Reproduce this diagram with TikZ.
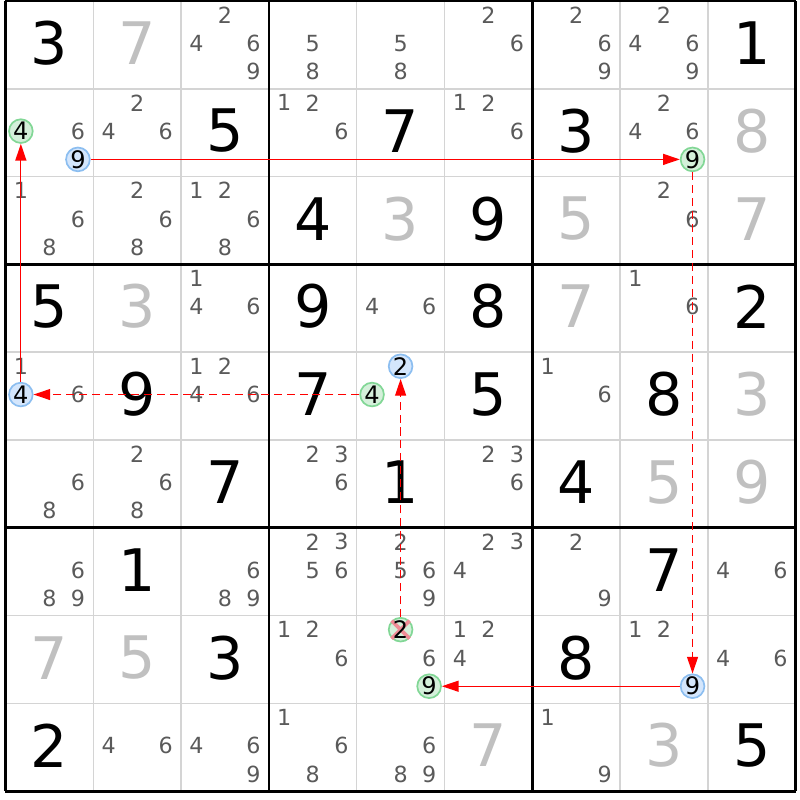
\documentclass[tikz,border=0pt]{standalone}
\usepackage{fontspec}
\setmainfont{DejaVu Sans}
\usetikzlibrary{arrows.meta}

\definecolor{solvedgray}{RGB}{192,192,192}
\definecolor{candgray}{RGB}{90,90,90}
\definecolor{thingray}{RGB}{212,212,212}
\definecolor{blueline}{RGB}{140,190,240}
\definecolor{bluefill}{RGB}{212,230,252}
\definecolor{greenline}{RGB}{130,215,150}
\definecolor{greenfill}{RGB}{212,240,218}
\definecolor{crosspink}{RGB}{240,140,150}

\begin{document}
\begin{tikzpicture}[x=1cm, y=-1cm,
    given/.style={font=\fontsize{19}{19}\selectfont, text=black, inner sep=0pt},
    solved/.style={given, text=solvedgray},
    cand/.style={font=\fontsize{7.2}{7.2}\selectfont, text=candgray, inner sep=0pt},
    hlblue/.style={circle, draw=blueline, fill=bluefill, line width=0.55pt, minimum size=0.27cm, inner sep=0pt, font=\fontsize{7.8}{7.8}\selectfont, text=black},
    hlgreen/.style={hlblue, draw=greenline, fill=greenfill},
    strong/.style={red, line width=0.4pt, -{Triangle[length=1.9mm, width=1.25mm]}},
    weak/.style={strong, dash pattern=on 2.6pt off 1.6pt},
    cross/.style={crosspink, line width=1.2pt}]

    \useasboundingbox (-0.0626,-0.0114) rectangle (9.049,9.100);

    % grid
    \foreach \i in {1,2,4,5,7,8} {
        \draw[thingray, line width=0.5pt] (\i,0) -- (\i,9);
        \draw[thingray, line width=0.5pt] (0,\i) -- (9,\i);
    }
    \foreach \i in {0,3,6,9} {
        \draw[black, line width=0.9pt] (\i,0) -- (\i,9);
        \draw[black, line width=0.9pt] (0,\i) -- (9,\i);
    }

    % given digits
    \foreach \r/\c/\d in {1/1/3, 1/9/1, 2/3/5, 2/5/7, 2/7/3, 3/4/4, 3/6/9,
        4/1/5, 4/4/9, 4/6/8, 4/9/2, 5/2/9, 5/4/7, 5/6/5, 5/8/8,
        6/3/7, 6/5/1, 6/7/4, 7/2/1, 7/8/7, 8/3/3, 8/7/8, 9/1/2, 9/9/5}
        \node[given] (g\r\c) at ({\c-0.5},{\r-0.52}) {\d};

    % solved digits
    \foreach \r/\c/\d in {1/2/7, 2/9/8, 3/5/3, 3/7/5, 3/9/7, 4/2/3, 4/7/7,
        5/9/3, 6/8/5, 6/9/9, 8/1/7, 8/2/5, 9/6/7, 9/8/3}
        \node[solved] (s\r\c) at ({\c-0.5},{\r-0.52}) {\d};

    % candidates
    \foreach \r/\c/\l in {1/3/{2,4,6,9}, 1/4/{5,8}, 1/5/{5,8}, 1/6/{2,6}, 1/7/{2,6,9}, 1/8/{2,4,6,9},
        2/1/{4,6,9}, 2/2/{2,4,6}, 2/4/{1,2,6}, 2/6/{1,2,6}, 2/8/{2,4,6,9},
        3/1/{1,6,8}, 3/2/{2,6,8}, 3/3/{1,2,6,8}, 3/8/{2,6},
        4/3/{1,4,6}, 4/5/{4,6}, 4/8/{1,6},
        5/1/{1,4,6}, 5/3/{1,2,4,6}, 5/5/{2,4}, 5/7/{1,6},
        6/1/{6,8}, 6/2/{2,6,8}, 6/4/{2,3,6}, 6/6/{2,3,6},
        7/1/{6,8,9}, 7/3/{6,8,9}, 7/4/{2,3,5,6}, 7/5/{2,5,6,9}, 7/6/{2,3,4}, 7/7/{2,9}, 7/9/{4,6},
        8/4/{1,2,6}, 8/5/{2,6,9}, 8/6/{1,2,4}, 8/8/{1,2,9}, 8/9/{4,6},
        9/2/{4,6}, 9/3/{4,6,9}, 9/4/{1,6,8}, 9/5/{6,8,9}, 9/7/{1,9}}
        \foreach \d in \l {
            \pgfmathtruncatemacro\col{mod(\d-1,3)}
            \pgfmathtruncatemacro\row{div(\d-1,3)}
            \node[cand] (p\r\c\d) at ({\c-0.825+0.325*\col},{\r-0.84+0.322*\row}) {\d};
        }

    % highlighted candidates
    \node[hlgreen] (g214) at (p214) {4};
    \node[hlblue] (b219) at (p219) {9};
    \node[hlgreen] (g289) at (p289) {9};
    \node[hlblue] (b514) at (p514) {4};
    \node[hlblue] (b552) at (p552) {2};
    \node[hlgreen] (g554) at (p554) {4};
    \node[hlgreen] (g859) at (p859) {9};
    \node[hlblue] (b889) at (p889) {9};

    % eliminated candidate
    \node[hlgreen] (g852) at (p852) {};
    \draw[cross] (g852.north west) -- (g852.south east) (g852.north east) -- (g852.south west);
    \node[hlgreen, draw=none, fill=none] at (g852) {2};

    % chain
    \draw[strong] (b514) -- (g214);
    \draw[strong] (b219) -- (g289);
    \draw[weak] (g289) -- (b889);
    \draw[strong] (b889) -- (g859);
    \draw[weak] (g554) -- (b514);
    \draw[weak] (g852) -- (b552);
\end{tikzpicture}
\end{document}
